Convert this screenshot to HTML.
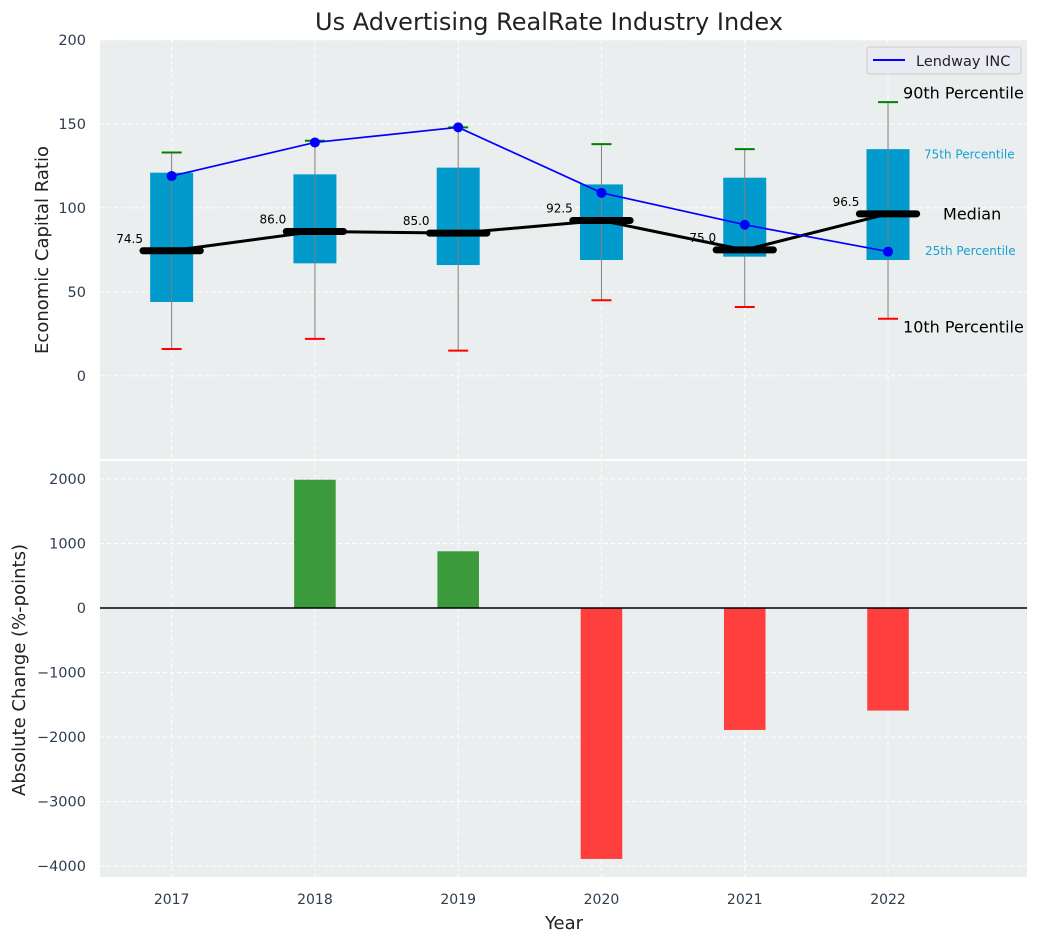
<!DOCTYPE html>
<html><head><meta charset="utf-8">
<style>
body{margin:0;background:#fff;font-family:"Liberation Sans","DejaVu Sans",sans-serif;}
svg text{font-family:"DejaVu Sans","Liberation Sans",sans-serif;}
</style></head>
<body>
<svg id="c" width="1039" height="942" xmlns="http://www.w3.org/2000/svg"></svg>
<script>
const years=[2017,2018,2019,2020,2021,2022];
const p10=[16,22,15,45,41,34];
const p25=[44,67,66,69,71,69];
const medians=[74.5,86,85,92.5,75,96.5];
const p75=[121,120,124,114,118,135];
const p90=[133,140,148,138,135,163];
const lendway=[119,139,148,109,90,74];
const changes=[0,1990,880,-3890,-1890,-1590];
const topTicks=[0,50,100,150,200];
const botTicks=[-4000,-3000,-2000,-1000,0,1000,2000];

const svg=document.getElementById('c');
const NS='http://www.w3.org/2000/svg';
function mk(tag,attrs,parent){const e=document.createElementNS(NS,tag);for(const k in attrs)e.setAttribute(k,attrs[k]);(parent||svg).appendChild(e);return e;}
const L=100,R=1027;
const x=v=>L+(v-2016.5)/(2022.97-2016.5)*(R-L);
const T0=40,T1=459; const yT=v=>T0+(200-v)/(200-(-49.5))*(T1-T0);
const B0=461,B1=877; const yB=v=>B0+(2280-v)/(2280-(-4170))*(B1-B0);

let e=mk('rect',{x:L,y:T0,width:R-L,height:T1-T0,fill:'#eaeeee'});

e=mk('rect',{x:L,y:B0,width:R-L,height:B1-B0,fill:'#eaeeee'});


years.forEach(v=>{
  mk('line',{x1:x(v),x2:x(v),y1:T0,y2:T1,stroke:'#fff','stroke-dasharray':'4,3','stroke-width':1});
  mk('line',{x1:x(v),x2:x(v),y1:B0,y2:B1,stroke:'#fff','stroke-dasharray':'4,3','stroke-width':1});
  const t=mk('text',{x:x(v),y:904,'text-anchor':'middle','font-size':14,fill:'#2e3e50'});t.textContent=v;
  
});
topTicks.forEach(v=>{
  mk('line',{x1:L,x2:R,y1:yT(v),y2:yT(v),stroke:'#fff','stroke-dasharray':'4,3'});
  const t=mk('text',{x:86,y:yT(v)+5,'text-anchor':'end','font-size':14.5,fill:'#2e3e50'});t.textContent=v;
  
});
botTicks.forEach(v=>{
  mk('line',{x1:L,x2:R,y1:yB(v),y2:yB(v),stroke:'#fff','stroke-dasharray':'4,3'});
  const t=mk('text',{x:86,y:yB(v)+5,'text-anchor':'end','font-size':14.5,fill:'#2e3e50'});t.textContent=(v<0?'\u2212'+(-v):v);
  
});

const hw=(x(2017.15)-x(2017));
years.forEach((yr,i)=>{
  const cx=x(yr);
  e=mk('rect',{x:cx-hw,y:yT(p75[i]),width:2*hw,height:yT(p25[i])-yT(p75[i]),fill:'#009acd'});
  
  e=mk('line',{x1:cx,x2:cx,y1:yT(p90[i]),y2:yT(p10[i]),stroke:'#808080','stroke-width':1});
  
  e=mk('line',{x1:cx-10,x2:cx+10,y1:yT(p90[i]),y2:yT(p90[i]),stroke:'green','stroke-width':2});
  
  e=mk('line',{x1:cx-10,x2:cx+10,y1:yT(p10[i]),y2:yT(p10[i]),stroke:'red','stroke-width':2});
  
});
e=mk('polyline',{points:years.map((v,i)=>x(v)+','+yT(medians[i])).join(' '),fill:'none',stroke:'#000','stroke-width':3});

years.forEach((yr,i)=>{
  const cx=x(yr),w=x(2017.2)-x(2017);
  e=mk('line',{x1:cx-w,x2:cx+w,y1:yT(medians[i]),y2:yT(medians[i]),stroke:'#000','stroke-width':7,'stroke-linecap':'round'});
  
  const t=mk('text',{x:cx-42,y:yT(medians[i])-8,'text-anchor':'middle','font-size':12,fill:'#000'});t.textContent=medians[i].toFixed(1);
  
});
e=mk('polyline',{points:years.map((v,i)=>x(v)+','+yT(lendway[i])).join(' '),fill:'none',stroke:'#0000ff','stroke-width':1.7});

years.forEach((yr,i)=>{
  e=mk('circle',{cx:x(yr),cy:yT(lendway[i]),r:5,fill:'#0000ff'});
  
});
const lastI=years.length-1, ax=x(years[lastI]);
[['90th Percentile',p90[lastI],16,'#000',ax+15,9],['75th Percentile',p75[lastI],12,'#1aa0d0',ax+36,-5],['Median',medians[lastI],16,'#000',ax+55,0],['25th Percentile',p25[lastI],12,'#1aa0d0',ax+37,9],['10th Percentile',p10[lastI],16,'#000',ax+15,-8]].forEach(a=>{
  const t=mk('text',{x:a[4],y:yT(a[1])-a[5]+a[2]*0.35,'font-size':a[2],fill:a[3]});t.textContent=a[0];
  
});
const lg=mk('g',{});
mk('rect',{x:867,y:47,width:154,height:27,rx:3,fill:'#eaeaf2',stroke:'#ccc'},lg);
mk('line',{x1:873,x2:905,y1:60,y2:60,stroke:'#0000ff','stroke-width':2},lg);
let t=mk('text',{x:916,y:66,'font-size':14.5,fill:'#222'},lg);t.textContent='Lendway INC';

years.forEach((yr,i)=>{
  const v=changes[i]; if(v===0) return;
  const bw=x(2017.145)-x(2017);
  e=mk('rect',{x:x(yr)-bw,width:2*bw,y:Math.min(yB(v),yB(0)),height:Math.abs(yB(v)-yB(0)),fill:v>0?'#3a9a3c':'#ff3e3e'});
  
});
e=mk('line',{x1:L,x2:R,y1:yB(0),y2:yB(0),stroke:'#000','stroke-width':1.5});


t=mk('text',{x:549,y:30,'text-anchor':'middle','font-size':24,fill:'#222'});t.textContent='Us Advertising RealRate Industry Index';

t=mk('text',{x:564,y:929,'text-anchor':'middle','font-size':18,fill:'#222'});t.textContent='Year';

t=mk('text',{x:0,y:0,'text-anchor':'middle','font-size':18,fill:'#222',transform:'translate(48,250) rotate(-90)'});t.textContent='Economic Capital Ratio';

t=mk('text',{x:0,y:0,'text-anchor':'middle','font-size':18,fill:'#222',transform:'translate(25,670) rotate(-90)'});t.textContent='Absolute Change (%-points)';

</script>
</body></html>
